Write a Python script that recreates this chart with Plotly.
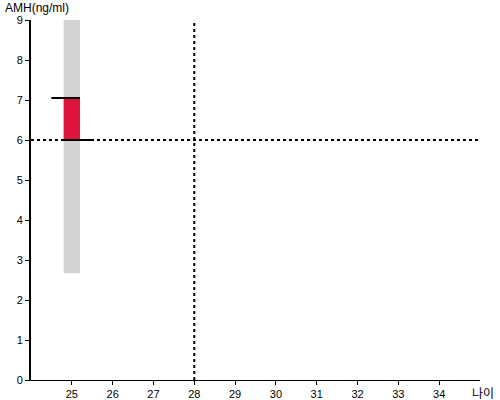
import plotly.graph_objects as go

# data
range_x = [25]
range_low = [2.67]
range_high = [9.0]
value_low = [6.0]
value_high = [7.05]
ref_age = 28
ref_amh = 6
x_ticks = list(range(25, 35))
y_ticks = list(range(0, 10))

fig = go.Figure()
fig.add_trace(go.Bar(x=range_x, y=[h - l for h, l in zip(range_high, range_low)], base=range_low,
                     width=0.4, marker=dict(color="#d3d3d3", line=dict(width=0)), hoverinfo="skip"))
fig.add_trace(go.Bar(x=range_x, y=[h - l for h, l in zip(value_high, value_low)], base=value_low,
                     width=0.4, marker=dict(color="#dc143c", line=dict(width=0)), hoverinfo="skip"))
# marker lines
fig.add_trace(go.Scatter(x=[range_x[0] - 0.5, range_x[0] + 0.2], y=[value_high[0]] * 2, mode="lines",
                         line=dict(color="black", width=2), hoverinfo="skip"))
fig.add_trace(go.Scatter(x=[range_x[0] - 0.2, range_x[0] + 0.5], y=[value_low[0]] * 2, mode="lines",
                         line=dict(color="black", width=2), hoverinfo="skip"))
# reference dotted lines
fig.add_trace(go.Scatter(x=[24, 35], y=[ref_amh, ref_amh], mode="lines",
                         line=dict(color="black", width=2, dash="dot"), hoverinfo="skip"))
fig.add_trace(go.Scatter(x=[ref_age, ref_age], y=[0, 9], mode="lines",
                         line=dict(color="black", width=2, dash="dot"), hoverinfo="skip"))

fig.update_layout(
    width=500, height=400, showlegend=False, barmode="overlay",
    plot_bgcolor="white", paper_bgcolor="white",
    margin=dict(l=31, r=20, t=20, b=20),
    font=dict(family="Liberation Sans, Arial", size=11, color="black"),
    xaxis=dict(range=[24, 35], tickvals=x_ticks, showgrid=False, zeroline=False, automargin=False,
               showline=True, linecolor="black", linewidth=1, ticks="outside", ticklen=4,
               tickcolor="black"),
    yaxis=dict(range=[0, 9], tickvals=y_ticks, showgrid=False, zeroline=False, automargin=False,
               showline=True, linecolor="black", linewidth=2, ticks="outside", ticklen=4,
               tickcolor="black"),
    annotations=[
        dict(text="AMH(ng/ml)", xref="paper", yref="paper", x=0, y=1, xshift=-28, yshift=3,
             xanchor="left", yanchor="bottom", showarrow=False, font=dict(size=12)),
        dict(text="나이", xref="paper", yref="paper", x=1, y=0, xshift=15, yshift=-12,
             xanchor="right", yanchor="middle", showarrow=False, borderpad=0,
             font=dict(size=12, family="Noto Sans CJK KR")),
    ],
)
fig.write_html("out.html", config={"displayModeBar": False},
               post_script="document.body.style.margin='0';document.body.style.overflow='hidden';")
